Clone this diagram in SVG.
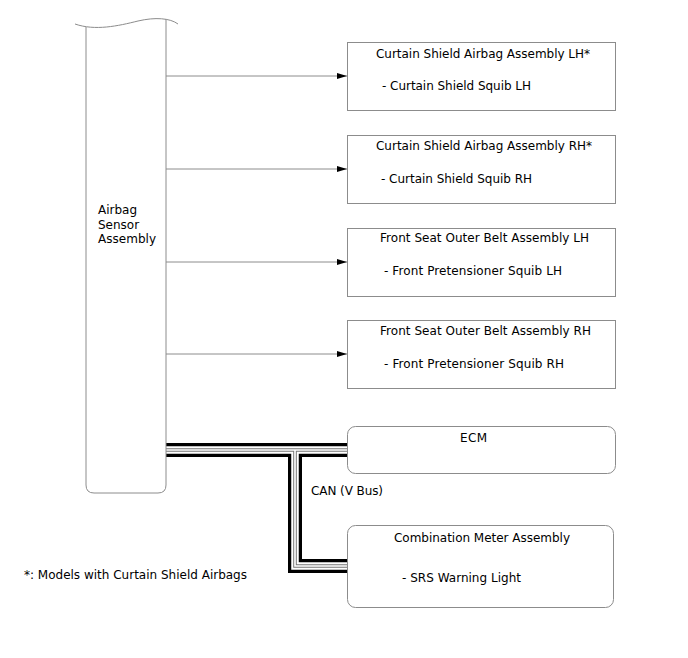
<svg xmlns="http://www.w3.org/2000/svg" width="688" height="658" viewBox="0 0 688 658">
<defs>
<style>
text{font-family:"DejaVu Sans","Liberation Sans",sans-serif;font-size:12px;fill:#000}
.box{fill:#fff;stroke:#8c8c8c;stroke-width:1}
.wire{fill:none;stroke:#8c8c8c;stroke-width:1}
.bus{fill:none;stroke-linejoin:miter;stroke-linecap:butt}
</style>
<marker id="ah" viewBox="0 0 10 6" refX="10" refY="3" markerWidth="10" markerHeight="6" markerUnits="userSpaceOnUse" orient="auto">
<path d="M0,0 L10,3 L0,6 z" fill="#000"/>
</marker>
</defs>
<rect width="688" height="658" fill="#fff"/>
<g id="connectors">
<line class="wire" x1="166" y1="76" x2="347" y2="76" marker-end="url(#ah)"/>
<line class="wire" x1="166" y1="169" x2="347" y2="169" marker-end="url(#ah)"/>
<line class="wire" x1="166" y1="262" x2="347" y2="262" marker-end="url(#ah)"/>
<line class="wire" x1="166" y1="354" x2="347" y2="354" marker-end="url(#ah)"/>
<g id="can-bus">
<path class="bus" d="M166,450 H347 M295,450 V566 H347" stroke="#000" stroke-width="14"/>
<path class="bus" d="M166,450 H347 M295,450 V566 H347" stroke="#fff" stroke-width="7.5"/>
<path class="bus" d="M166,450 H347 M295,450 V566 H347" stroke="#777" stroke-width="3.6"/>
<path class="bus" d="M166,450 H347 M295,450 V566 H347" stroke="#fff" stroke-width="1.6"/>
</g>
<text x="311" y="495" textLength="72">CAN (V Bus)</text>
</g>
<g id="sensor">
<path d="M86,27 V485 Q86,493 94,493 H158 Q166,493 166,485 V19" fill="#fff" stroke="#8c8c8c" stroke-width="1"/>
<path d="M75,24 C95,31 118,26 138,21 C155,17 170,18 178,24" fill="none" stroke="#8c8c8c" stroke-width="1"/>
<text x="98" y="214">Airbag</text>
<text x="98" y="229">Sensor</text>
<text x="98" y="243" textLength="58">Assembly</text>
</g>
<g id="curtain-lh">
<rect class="box" x="347.5" y="42.5" width="268" height="68"/>
<text x="376" y="58" textLength="214">Curtain Shield Airbag Assembly LH*</text>
<text x="382" y="90" textLength="149">- Curtain Shield Squib LH</text>
</g>
<g id="curtain-rh">
<rect class="box" x="347.5" y="135.5" width="268" height="68"/>
<text x="376" y="150" textLength="216">Curtain Shield Airbag Assembly RH*</text>
<text x="381" y="183" textLength="151">- Curtain Shield Squib RH</text>
</g>
<g id="belt-lh">
<rect class="box" x="347.5" y="228.5" width="268" height="68"/>
<text x="380" y="242" textLength="209">Front Seat Outer Belt Assembly LH</text>
<text x="384" y="275" textLength="178">- Front Pretensioner Squib LH</text>
</g>
<g id="belt-rh">
<rect class="box" x="347.5" y="320.5" width="268" height="68"/>
<text x="380" y="335" textLength="211">Front Seat Outer Belt Assembly RH</text>
<text x="384" y="368" textLength="180">- Front Pretensioner Squib RH</text>
</g>
<g id="ecm">
<rect class="box" x="347.5" y="426.5" width="268" height="47" rx="8"/>
<text x="460" y="442" textLength="27">ECM</text>
</g>
<g id="combination-meter">
<rect class="box" x="347.5" y="525.5" width="266" height="82" rx="8"/>
<text x="394" y="542" textLength="176">Combination Meter Assembly</text>
<text x="402" y="582" textLength="119">- SRS Warning Light</text>
</g>
<text x="24" y="579" textLength="223">*: Models with Curtain Shield Airbags</text>
</svg>
